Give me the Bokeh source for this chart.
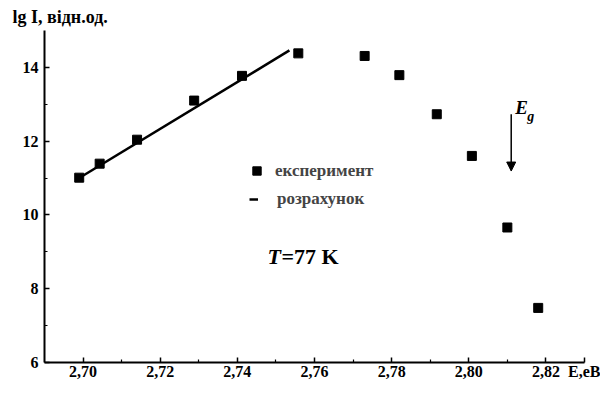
from bokeh.plotting import figure
from bokeh.models import (Range1d, FixedTicker, CustomJSTickFormatter, Label, Arrow,
                          NormalHead, Legend, LegendItem)
from bokeh.embed import file_html
from bokeh.resources import INLINE

# ---- data ----
exp_E = [2.699, 2.7043, 2.714, 2.7288, 2.7412, 2.7558, 2.773, 2.782, 2.7917, 2.8008, 2.810, 2.818]
exp_lgI = [11.01, 11.39, 12.04, 13.10, 13.77, 14.38, 14.31, 13.79, 12.73, 11.60, 9.66, 7.48]
calc_E = [2.699, 2.7535]
calc_lgI = [11.0, 14.46]

x_ticks = [2.70, 2.72, 2.74, 2.76, 2.78, 2.80, 2.82]
x_minor = [2.71, 2.73, 2.75, 2.77, 2.79, 2.81]
x_unit_pos = 2.83          # where the axis unit "E,eB" is written
x_unit_text = "E,eB"
y_ticks = [6, 8, 10, 12, 14]
y_minor = [7, 9, 11, 13]
y_title = "lg I, відн.од."

Eg = 2.811
Eg_arrow = [12.73, 11.19]
T_label_pos = (2.7478, 8.87)

FONT = "Liberation Serif"

p = figure(width=600, height=382, x_range=Range1d(2.69, 2.83), y_range=Range1d(6, 15),
           output_backend="svg", toolbar_location=None, title=y_title,
           min_border_left=44, min_border_right=16, min_border_top=30, min_border_bottom=18)
p.grid.visible = False
p.outline_line_color = None
p.background_fill_color = "white"

p.title.align = "left"
p.title.offset = -32
p.title.standoff = 7
p.title.text_font = FONT
p.title.text_font_style = "bold"
p.title.text_font_size = "18px"
p.title.text_color = "black"

for ax in (p.xaxis[0], p.yaxis[0]):
    ax.axis_line_width = 2
    ax.axis_line_color = "black"
    ax.major_tick_in = 5
    ax.major_tick_out = 0
    ax.minor_tick_in = 3
    ax.minor_tick_out = 0
    ax.major_tick_line_width = 1.5
    ax.minor_tick_line_width = 1.2
    ax.major_label_text_font = FONT
    ax.major_label_text_font_style = "bold"
    ax.major_label_text_font_size = "16px"
    ax.major_label_text_color = "black"

p.xaxis[0].ticker = FixedTicker(ticks=x_ticks + [x_unit_pos], minor_ticks=x_minor)
p.yaxis[0].ticker = FixedTicker(ticks=y_ticks, minor_ticks=y_minor)
p.xaxis[0].formatter = CustomJSTickFormatter(
    args=dict(upos=x_unit_pos, utext=x_unit_text),
    code="if (Math.abs(tick - upos) < 1e-6) { return utext; } return tick.toFixed(2).replace('.', ',');")
p.xaxis[0].major_label_standoff = 0
p.yaxis[0].major_label_standoff = 6

r_line = p.line(calc_E, calc_lgI, line_width=2.5, line_color="black")
r_sc = p.scatter(exp_E, exp_lgI, marker="square", size=9, color="black")

leg1 = Legend(items=[LegendItem(label="експеримент", renderers=[r_sc])],
              location=(202, 181), glyph_width=21, glyph_height=21, label_standoff=8,
              padding=0, margin=0, border_line_color=None, background_fill_alpha=0,
              label_text_font=FONT, label_text_font_style="bold", label_text_font_size="17px")
leg2 = Legend(items=[LegendItem(label="розрахунок", renderers=[r_line])],
              location=(205, 153), glyph_width=9, glyph_height=20, label_standoff=19,
              padding=0, margin=0, border_line_color=None, background_fill_alpha=0,
              label_text_font=FONT, label_text_font_style="bold", label_text_font_size="17px")
p.add_layout(leg1)
p.add_layout(leg2)

def lab(text, x, y, xo, yo, size, style="bold"):
    p.add_layout(Label(x=x, y=y, x_offset=xo, y_offset=yo, text=text, text_font=FONT,
                       text_font_style=style, text_font_size=size, text_color="black",
                       text_baseline="middle", text_align="left"))

# temperature
lab("T", T_label_pos[0], T_label_pos[1], 0, 0, "22px", "bold italic")
lab("=77 K", T_label_pos[0], T_label_pos[1], 14, 0, "22px")

# band gap arrow
p.add_layout(Arrow(x_start=Eg, y_start=Eg_arrow[0], x_end=Eg, y_end=Eg_arrow[1],
                   line_width=1.5, line_color="black",
                   end=NormalHead(size=9, fill_color="black", line_color="black")))
lab("E", Eg, Eg_arrow[0], 4, 7, "19px", "bold italic")
lab("g", Eg, Eg_arrow[0], 16, -2, "14px", "bold italic")

open("out.html", "w").write(file_html(p, INLINE))
